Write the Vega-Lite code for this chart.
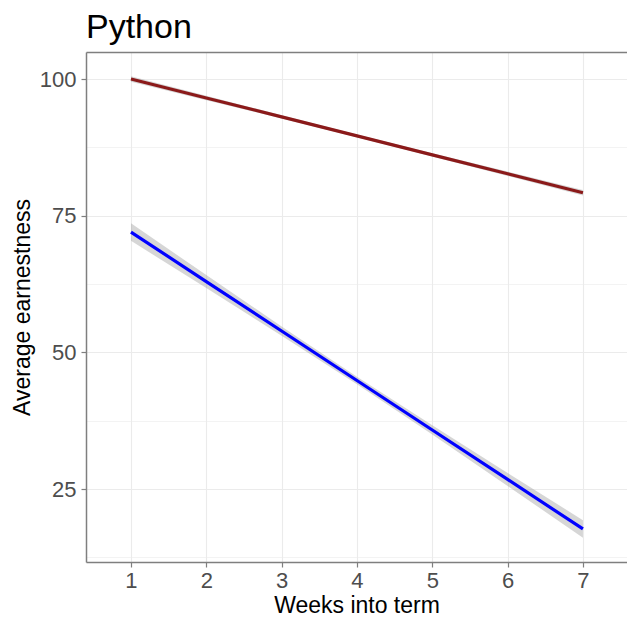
{
  "$schema": "https://vega.github.io/schema/vega-lite/v6.json",
  "width": 541,
  "height": 510,
  "autosize": {"type": "none"},
  "padding": {"left": 86, "top": 52, "right": 0, "bottom": 61},
  "background": "white",
  "title": {"text": "Python", "anchor": "start", "frame": "group", "fontSize": 34, "font": "Liberation Sans", "fontWeight": "normal", "color": "#000000", "offset": 7},
  "config": {
    "view": {"stroke": null},
    "axis": {
      "labelFont": "Liberation Sans", "labelFontSize": 22, "labelColor": "#4D4D4D",
      "titleFont": "Liberation Sans", "titleFontSize": 23, "titleColor": "#000000", "titleFontWeight": "normal",
      "domainColor": "#7F7F7F", "domainWidth": 1.5, "tickColor": "#7F7F7F", "tickWidth": 1.2,
      "gridColor": "#EBEBEB", "gridWidth": 1.1
    }
  },
  "data": {"values": [
    {"group": "A", "week": 1, "fit": 100.0, "lo": 99.5, "hi": 100.5},
    {"group": "A", "week": 2, "fit": 96.53, "lo": 96.13, "hi": 96.93},
    {"group": "A", "week": 3, "fit": 93.07, "lo": 92.77, "hi": 93.37},
    {"group": "A", "week": 4, "fit": 89.6, "lo": 89.35, "hi": 89.85},
    {"group": "A", "week": 5, "fit": 86.13, "lo": 85.83, "hi": 86.43},
    {"group": "A", "week": 6, "fit": 82.67, "lo": 82.27, "hi": 83.07},
    {"group": "A", "week": 7, "fit": 79.2, "lo": 78.7, "hi": 79.7},
    {"group": "B", "week": 1, "fit": 72.0, "lo": 70.4, "hi": 73.6},
    {"group": "B", "week": 2, "fit": 62.95, "lo": 61.76, "hi": 64.14},
    {"group": "B", "week": 3, "fit": 53.9, "lo": 53.05, "hi": 54.75},
    {"group": "B", "week": 4, "fit": 44.85, "lo": 44.15, "hi": 45.55},
    {"group": "B", "week": 5, "fit": 35.8, "lo": 34.95, "hi": 36.65},
    {"group": "B", "week": 6, "fit": 26.75, "lo": 25.56, "hi": 27.94},
    {"group": "B", "week": 7, "fit": 17.7, "lo": 16.1, "hi": 19.3}
  ]},
  "resolve": {"axis": {"x": "independent", "y": "independent"}},
  "layer": [
    {
      "mark": {"type": "area", "fill": "#999999", "opacity": 0.4},
      "encoding": {
        "x": {"field": "week", "type": "quantitative",
              "scale": {"domain": [0.403, 7.585], "nice": false, "zero": false},
              "axis": {"orient": "bottom", "values": [1, 2, 3, 4, 5, 6, 7], "format": "d", "grid": true, "title": "Weeks into term", "tickSize": 5, "labelPadding": 3, "titlePadding": 3}},
        "y": {"field": "lo", "type": "quantitative",
              "scale": {"domain": [11.65, 104.94], "nice": false, "zero": false},
              "axis": {"orient": "left", "values": [25, 50, 75, 100], "grid": true, "title": "Average earnestness", "tickSize": 5, "labelPadding": 5, "titlePadding": 5}},
        "y2": {"field": "hi"},
        "detail": {"field": "group"}
      }
    },
    {
      "mark": {"type": "line", "strokeWidth": 3.2},
      "encoding": {
        "x": {"field": "week", "type": "quantitative",
              "scale": {"domain": [0.403, 7.585], "nice": false, "zero": false},
              "axis": {"orient": "top", "labels": false, "ticks": false, "grid": false, "domain": true, "title": null}},
        "y": {"field": "fit", "type": "quantitative",
              "scale": {"domain": [11.65, 104.94], "nice": false, "zero": false},
              "axis": {"orient": "left", "values": [12.5, 37.5, 62.5, 87.5], "labels": false, "ticks": false, "domain": false, "grid": true, "gridWidth": 0.6, "title": null}},
        "color": {"field": "group", "type": "nominal", "scale": {"domain": ["A", "B"], "range": ["#8B1A1A", "#0000FF"]}, "legend": null}
      }
    }
  ]
}
